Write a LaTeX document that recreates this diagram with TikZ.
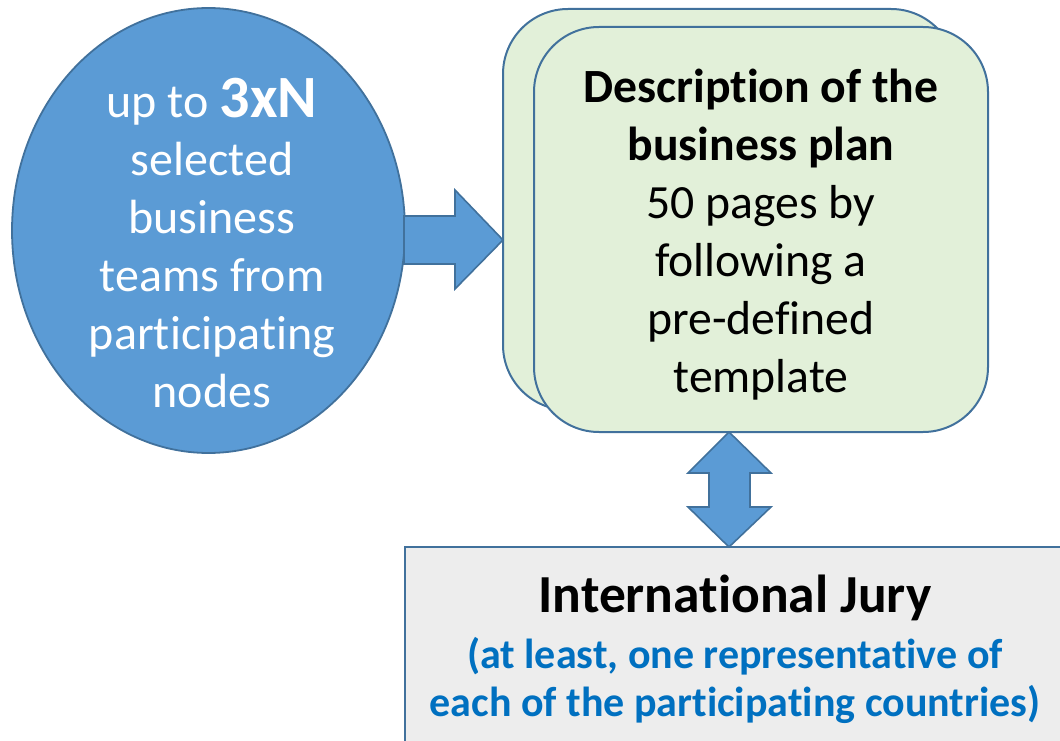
\documentclass[tikz,border=0pt]{standalone}
\usepackage{fontspec}
\usetikzlibrary{shapes.geometric}
\setmainfont[Ligatures=NoCommon]{Carlito}
\definecolor{ellfill}{HTML}{5B9BD5}
\definecolor{edgeblue}{HTML}{41719C}
\definecolor{greenfill}{HTML}{E2F0D9}
\definecolor{grayfill}{HTML}{EDEDED}
\definecolor{bluetext}{HTML}{0070C0}
\tikzset{
  blockarrow/.style={fill=ellfill, draw=edgeblue, line width=1.6pt, line join=miter},
  roundbox/.style={rectangle, fill=greenfill, draw=edgeblue, line width=2pt, rounded corners=65pt, inner sep=0pt},
  maintext/.style={align=center, inner sep=0pt},
}
\begin{document}
\begin{tikzpicture}[x=1pt,y=-1pt]
\useasboundingbox (0,0) rectangle (1060,741);
\clip (0,0) rectangle (1060,741);
% back and front rounded boxes
\node[roundbox, minimum width=453pt, minimum height=401pt] (back) at (729.5,209.5) {};
\node[roundbox, minimum width=454pt, minimum height=405pt] (front) at (761,229.5) {};
% ellipse
\node[ellipse, fill=ellfill, draw=edgeblue, line width=1.8pt, minimum width=393pt, minimum height=445pt, inner sep=0pt] (ellshape) at (208.5,230.5) {};
% right block arrow
\draw[blockarrow] (404,216) -- (455,216) -- (455,190) -- (503,240) -- (455,289) -- (455,264) -- (404,264) -- cycle;
\node[maintext, text=white, font=\fontsize{48}{58}\selectfont] (ell) at (212,243) {up to {\fontsize{60}{58}\selectfont\bfseries 3xN}\\selected\\business\\teams from\\participating\\nodes};
% front box text
\node[maintext, font=\fontsize{47.7}{58}\selectfont] (desc) at (761,234.5) {\textbf{Description of the}\\\textbf{business plan}\\50 pages by\\following a\\pre-defined\\template};
% jury box
\node[rectangle, fill=grayfill, draw=edgeblue, line width=2pt, minimum width=670pt, minimum height=213pt, inner sep=0pt] (jurybox) at (740,653.5) {};
\node[maintext, font=\fontsize{53.5}{58}\selectfont\bfseries] (jury) at (735,598) {International Jury};
\node[maintext, font=\fontsize{42}{48}\selectfont\bfseries, text=bluetext] (jurynote) at (735,680) {(at least, one representative of\\each of the participating countries)};
% double vertical arrow
\draw[blockarrow] (729,432) -- (771,473) -- (750,473) -- (750,507) -- (771,507) -- (729,547) -- (688,507) -- (709,507) -- (709,473) -- (688,473) -- cycle;
\end{tikzpicture}
\end{document}
